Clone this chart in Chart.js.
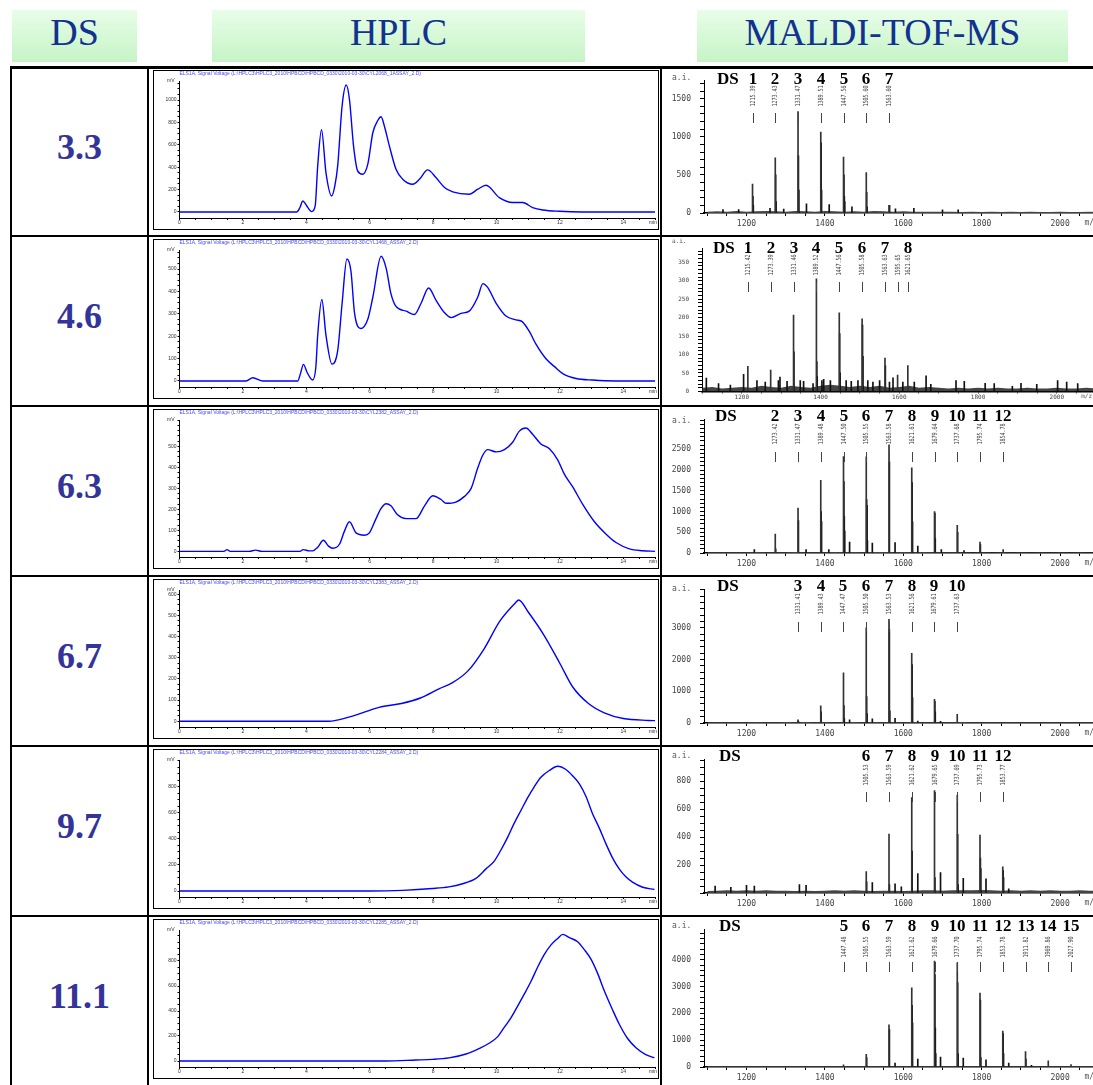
<!DOCTYPE html>
<html>
<head>
<meta charset="utf-8">
<script src="https://cdn.jsdelivr.net/npm/chart.js@4.4.1/dist/chart.umd.min.js"></script>
<style>
html, body { margin: 0; padding: 0; background: #fff; }
body { position: relative; width: 1093px; height: 1085px; overflow: hidden; }
.head { position: absolute; top: 10px; height: 52px; line-height: 54px; text-align: center;
  background: linear-gradient(#e8fde8, #c6f4c6); color: #12328f; font: 38px "Liberation Serif", serif; }
.rule { position: absolute; background: #000; z-index: 5; }
.ds { position: absolute; left: 12px; width: 135px; display: flex; align-items: center; justify-content: center;
  box-sizing: border-box; padding-bottom: 10px; font: bold 36px "Liberation Serif", serif; color: #333399; }
.hplc { position: absolute; left: 153px; width: 504px; height: 158px; border: 1px solid #000; }
.ms { position: absolute; left: 663px; width: 430px; height: 169px; overflow: hidden; }
canvas { display: block; }
</style>
</head>
<body>
<div class="head" style="left:12px;width:125px">DS</div>
<div class="head" style="left:212px;width:373px">HPLC</div>
<div class="head" style="left:697px;width:371px">MALDI-TOF-MS</div>
<script>
// degré de substitution de chaque ligne
const dsValues = ['3.3', '4.6', '6.3', '6.7', '9.7', '11.1'];

// HPLC : fichiers
const hplcPath = 'ELS1A, Signal Voltage (L:\\HPLC3\\HPLC3_2010\\HPBCD\\HPBCD_0330\\2010-03-30\\';
const hplcFiles = ['CYL2068_1ASSAY_2.D', 'CYL1468_ASSAY_2.D', 'CYL2382_ASSAY_2.D', 'CYL2383_ASSAY_2.D', 'CYL2284_ASSAY_2.D', 'CYL2285_ASSAY_2.D'];
const hplcXTicks = [0, 2, 4, 6, 8, 10, 12, 14];

// HPLC : [temps (min), signal (mV)]
const hplc1 = [[0,0],[3.7,0],[3.8,40],[3.89,98],[4.0,60],[4.17,3],[4.28,54],[4.36,412],[4.48,734],[4.62,352],[4.8,143],[4.9,233],[4.99,412],[5.13,949],[5.26,1134],[5.36,1009],[5.49,591],[5.62,367],[5.78,337],[5.94,427],[6.1,710],[6.25,815],[6.36,851],[6.46,770],[6.62,591],[6.83,382],[7.04,293],[7.36,248],[7.57,293],[7.83,376],[8.09,307],[8.36,218],[8.62,179],[9.14,158],[9.41,203],[9.67,239],[10.09,128],[10.51,84],[10.83,84],[11.14,39],[11.46,18],[11.98,6],[12.7,0],[15,0]];
const hplc2 = [[0,0],[2.1,0],[2.31,14],[2.63,0],[3.73,0],[3.82,35],[3.91,74],[4.02,40],[4.2,4],[4.3,60],[4.36,205],[4.49,364],[4.62,205],[4.81,75],[4.99,135],[5.13,347],[5.28,545],[5.41,489],[5.52,305],[5.71,234],[5.94,276],[6.1,375],[6.36,557],[6.52,503],[6.67,390],[6.83,333],[7.15,312],[7.41,297],[7.62,347],[7.86,415],[8.09,361],[8.36,305],[8.57,283],[8.88,302],[9.14,312],[9.41,375],[9.57,435],[9.72,418],[9.99,347],[10.3,290],[10.62,273],[10.81,265],[11.04,220],[11.25,163],[11.56,99],[11.83,64],[12.09,33],[12.51,11],[13.03,4],[13.77,0],[15,0]];
const hplc3 = [[0,0],[1.4,0],[1.5,8],[1.6,0],[2.2,0],[2.4,6],[2.6,0],[3.8,0],[3.9,8],[4.1,2],[4.2,2],[4.36,20],[4.54,53],[4.7,25],[4.84,15],[5.05,35],[5.2,95],[5.36,141],[5.57,88],[5.83,77],[5.99,88],[6.2,156],[6.36,205],[6.52,227],[6.67,217],[6.88,174],[7.15,156],[7.46,156],[7.73,217],[7.99,265],[8.25,247],[8.41,229],[8.72,235],[8.99,262],[9.2,300],[9.41,398],[9.57,459],[9.72,485],[9.99,474],[10.25,485],[10.51,520],[10.72,573],[10.93,588],[11.14,558],[11.4,512],[11.67,489],[11.93,436],[12.14,368],[12.4,308],[12.72,224],[13.09,141],[13.45,83],[13.77,42],[14.19,12],[14.61,3],[15,0]];
const hplc4 = [[0,0],[4.7,0],[5.4,22],[6.3,66],[7.0,84],[7.6,110],[8.2,154],[8.6,181],[9.1,238],[9.6,340],[10.1,472],[10.6,560],[10.7,573],[11.0,516],[11.5,406],[12.0,273],[12.4,163],[12.9,84],[13.4,40],[14,13],[14.8,4],[15,3]];
const hplc5 = [[0,0],[6,0],[7.04,5],[7.98,19],[8.5,32],[8.93,56],[9.35,97],[9.67,170],[9.93,230],[10.14,315],[10.35,412],[10.56,521],[10.77,618],[10.98,715],[11.19,800],[11.4,873],[11.67,926],[11.93,958],[12.19,933],[12.4,885],[12.61,824],[12.82,727],[13.03,594],[13.24,485],[13.45,364],[13.66,255],[13.87,170],[14.08,109],[14.29,68],[14.61,29],[14.98,12]];
const hplc6 = [[0,0],[6.5,0],[7.46,8],[7.98,13],[8.5,25],[9.04,56],[9.46,101],[9.78,144],[10.04,195],[10.25,271],[10.46,347],[10.67,441],[10.88,537],[11.09,638],[11.3,752],[11.51,853],[11.72,929],[11.93,980],[12.09,1013],[12.3,987],[12.56,954],[12.77,891],[12.98,815],[13.19,701],[13.4,562],[13.66,410],[13.87,296],[14.13,182],[14.4,106],[14.71,51],[14.98,25]];

// HPLC : graduations y
const hplc1YTicks = [0, 200, 400, 600, 800, 1000];
const hplc2YTicks = [0, 100, 200, 300, 400, 500];
const hplc3YTicks = [0, 100, 200, 300, 400, 500];
const hplc4YTicks = [0, 100, 200, 300, 400, 500, 600];
const hplc5YTicks = [0, 200, 400, 600, 800];
const hplc6YTicks = [0, 200, 400, 600, 800];

// MALDI : graduations
const msXTicks = [1200, 1400, 1600, 1800, 2000];
const ms1YTicks = [0, 500, 1000, 1500];
const ms2YTicks = [0, 50, 100, 150, 200, 250, 300, 350];
const ms3YTicks = [0, 500, 1000, 1500, 2000, 2500];
const ms4YTicks = [0, 1000, 2000, 3000];
const ms5YTicks = [200, 400, 600, 800];
const ms6YTicks = [0, 1000, 2000, 3000, 4000];

// MALDI : pics annotés [m/z, intensité] et DS
const ms1Peaks = [[1215.39,380],[1273.43,723],[1331.47,1330],[1389.51,1062],[1447.56,735],[1505.60,529],[1563.60,100]];
const ms1Ds = ['1','2','3','4','5','6','7'];
const ms2Peaks = [[1215.42,68],[1273.39,58],[1331.46,207],[1389.52,305],[1447.56,213],[1505.58,197],[1563.63,90],[1595.65,44],[1621.65,70]];
const ms2Ds = ['1','2','3','4','5','6','7','','8'];
const ms3Peaks = [[1273.42,453],[1331.47,1080],[1389.48,1752],[1447.50,2326],[1505.55,2319],[1563.58,2606],[1621.61,2054],[1679.64,997],[1737.68,665],[1795.74,264],[1854.78,80]];
const ms3Ds = ['2','3','4','5','6','7','8','9','10','11','12'];
const ms4Peaks = [[1331.41,100],[1389.43,545],[1447.47,1584],[1505.50,3000],[1563.53,3267],[1621.56,2198],[1679.61,743],[1737.63,270]];
const ms4Ds = ['3','4','5','6','7','8','9','10'];
const ms5Peaks = [[1505.53,153],[1563.59,422],[1621.62,685],[1679.65,735],[1737.69,701],[1795.73,416],[1853.77,187]];
const ms5Ds = ['6','7','8','9','10','11','12'];
const ms6Peaks = [[1447.48,80],[1505.55,469],[1563.59,1571],[1621.62,2954],[1679.66,3951],[1737.70,3892],[1795.74,2755],[1853.78,1336],[1911.82,574],[1969.86,234],[2027.90,90]];
const ms6Ds = ['5','6','7','8','9','10','11','12','13','14','15'];

// MALDI : isotopes, adduits et pics secondaires [m/z, intensité]
const ms1Minor = [[1216.4,220],[1217.4,100],[1274.4,500],[1275.4,150],[1332.5,750],[1333.5,300],[1390.5,920],[1391.5,300],[1448.6,500],[1449.6,220],[1450.6,150],[1506.6,270],[1507.6,80],[1353,120],[1411,110],[1469,80],[1565,100],[1627,60],[1260,60],[1295,50],[1180,45],[1140,45],[1580,55],[1700,40],[1740,40]];
const ms2Minor = [[1110,36],[1141,21],[1171,17],[1204.6,46],[1238.5,29],[1259.6,25],[1293,29],[1297,39],[1315,27],[1332.5,107],[1348.5,29],[1357,27],[1381,21],[1390.5,81],[1391.5,40],[1403.5,29],[1408,33],[1425,29],[1448.6,157],[1449.6,50],[1465,29],[1478,27],[1495,29],[1506.6,180],[1507.6,95],[1520,29],[1533,25],[1550,29],[1564.6,70],[1575,25],[1584,37],[1609,25],[1638,25],[1668,42],[1680,19],[1744,29],[1765,27],[1818,22],[1841,21],[1887,14],[1909,22],[1949,19],[2002,29],[2025,25],[2053,21]];
const ms3Minor = [[1332.5,780],[1390.5,1000],[1391.5,760],[1448.5,1720],[1449.5,880],[1450.5,530],[1506.5,1290],[1507.5,1150],[1508.5,300],[1564.6,2200],[1622.6,1700],[1623.6,750],[1680.6,960],[1681.6,350],[1738.7,500],[1796.7,200],[1463,265],[1521,242],[1579,250],[1637,166],[1697,80],[1352,80],[1410,80],[1274.4,100],[1220,80],[1755,60]];
const ms4Minor = [[1390.4,350],[1448.5,550],[1449.5,150],[1506.5,830],[1507.5,300],[1564.5,2950],[1565.5,380],[1622.6,1840],[1623.6,800],[1680.6,680],[1681.6,350],[1463,100],[1521,130],[1579,150],[1637,60],[1695,50],[1332.4,60]];
const ms5Minor = [[1506.5,80],[1564.6,60],[1622.6,300],[1680.7,110],[1738.7,420],[1739.7,60],[1796.7,250],[1797.7,175],[1854.8,160],[1855.8,110],[1637,139],[1695,146],[1753,105],[1811,101],[1579,65],[1521,75],[1869,30],[1120,49],[1200,55],[1220,50],[1335,60],[1352,55],[1160,40],[1595,45]];
const ms6Minor = [[1506.6,350],[1564.6,1400],[1622.6,2300],[1623.6,1650],[1680.7,3450],[1681.7,1460],[1682.7,500],[1738.7,3150],[1739.7,500],[1796.7,2500],[1797.7,350],[1854.8,1250],[1855.8,500],[1912.8,300],[1579,150],[1637,300],[1695,370],[1753,330],[1811,270],[1869,150],[1927,60]];

// MALDI : bruit de fond
const noiseMz = [1100,1125,1150,1175,1200,1225,1250,1275,1300,1325,1350,1375,1400,1425,1450,1475,1500,1525,1550,1575,1600,1625,1650,1675,1700,1725,1750,1775,1800,1825,1850,1875,1900,1925,1950,1975,2000,2025,2050,2075,2100,2125,2150];
const ms1Noise = [18,22,18,25,18,22,25,22,18,25,22,18,25,22,18,22,18,25,22,18,22,18,15,18,15,15,12,15,12,15,12,15,12,15,12,12,15,12,12,15,12,10,12];
const ms2Noise = [10,12,8,10,12,10,15,12,10,15,12,10,15,18,15,12,15,12,15,10,12,15,10,12,10,8,10,8,10,8,10,8,8,10,8,8,10,8,8,10,8,8,8];
const ms3Noise = [18,18,21,18,21,24,21,18,21,24,21,18,21,24,21,24,21,24,24,21,24,21,24,21,18,21,18,15,18,15,18,15,18,15,18,15,18,15,18,15,15,12,15];
const ms4Noise = [24,24,27,24,27,30,27,24,30,27,30,27,30,24,27,30,27,30,27,30,27,30,27,24,27,24,30,24,27,24,21,24,21,24,21,24,21,24,21,21,24,21,21];
const ms5Noise = [14,17,19,17,19,17,19,17,17,14,17,14,17,19,17,19,17,14,17,17,14,17,19,19,17,19,19,19,22,19,17,19,17,19,17,19,17,17,19,17,17,14,17];
const ms6Noise = [24,27,24,27,24,27,24,27,24,27,24,24,27,24,27,24,27,24,27,30,27,30,27,30,27,30,27,30,27,30,27,30,27,24,27,24,27,24,27,24,24,21,24];

// ---------- mise en page ----------
const rowTops = [67, 236, 406, 576, 746, 916, 1085];

const hplcRows = [
    { data: hplc1, yTicks: hplc1YTicks, minor: 50, yMin: -54, yMax: 1170 },
    { data: hplc2, yTicks: hplc2YTicks, minor: 25, yMin: -27, yMax: 585 },
    { data: hplc3, yTicks: hplc3YTicks, minor: 25, yMin: -27, yMax: 626 },
    { data: hplc4, yTicks: hplc4YTicks, minor: 25, yMin: -27, yMax: 620 },
    { data: hplc5, yTicks: hplc5YTicks, minor: 50, yMin: -46, yMax: 1006 },
    { data: hplc6, yTicks: hplc6YTicks, minor: 50, yMin: -48, yMax: 1048 }
];

const msRows = [
    { peaks: ms1Peaks, ds: ms1Ds, minor: ms1Minor, noise: ms1Noise, yTicks: ms1YTicks, yMinor: 100, yMax: 1735,
      xMin: 1091.6, xMax: 2160.5, axisW: 41, top: 6, axisH: 22, aiY: 11, numY: 17, labY: 29, dsX: 54, font: 8 },
    { peaks: ms2Peaks, ds: ms2Ds, minor: ms2Minor, noise: ms2Noise, yTicks: ms2YTicks, yMinor: 10, yMax: 387,
      xMin: 1099, xMax: 2168, axisW: 39, top: 3, axisH: 10, aiY: 5, numY: 17, labY: 29, dsX: 50, font: 6 },
    { peaks: ms3Peaks, ds: ms3Ds, minor: ms3Minor, noise: ms3Noise, yTicks: ms3YTicks, yMinor: 100, yMax: 3210,
      xMin: 1091.6, xMax: 2160.5, axisW: 41, top: 5, axisH: 21, aiY: 15, numY: 15, labY: 28, dsX: 52, font: 8 },
    { peaks: ms4Peaks, ds: ms4Ds, minor: ms4Minor, noise: ms4Noise, yTicks: ms4YTicks, yMinor: 200, yMax: 4200,
      xMin: 1091.6, xMax: 2160.5, axisW: 41, top: 5, axisH: 21, aiY: 13, numY: 15, labY: 28, dsX: 54, font: 8 },
    { peaks: ms5Peaks, ds: ms5Ds, minor: ms5Minor, noise: ms5Noise, yTicks: ms5YTicks, yMinor: 50, yMax: 955,
      xMin: 1091.6, xMax: 2160.5, axisW: 41, top: 5, axisH: 21, aiY: 10, numY: 15, labY: 29, dsX: 56, font: 8 },
    { peaks: ms6Peaks, ds: ms6Ds, minor: ms6Minor, noise: ms6Noise, yTicks: ms6YTicks, yMinor: 200, yMax: 5120,
      xMin: 1091.6, xMax: 2160.5, axisW: 41, top: 5, axisH: 17, aiY: 10, numY: 15, labY: 31, dsX: 56, font: 8 }
];

function steps(from, to, step) {
    const out = [];
    for (let v = from; v <= to + 1e-9; v += step) out.push(Math.round(v * 100) / 100);
    return out;
}

function addDiv(cls, css, text) {
    const d = document.createElement('div');
    d.className = cls;
    d.style.cssText = css;
    if (text) d.textContent = text;
    document.body.appendChild(d);
    return d;
}

function addCanvas(parent, w, h) {
    const c = document.createElement('canvas');
    c.width = w;
    c.height = h;
    c.style.width = w + 'px';
    c.style.height = h + 'px';
    parent.appendChild(c);
    return c;
}

// textes du chromatogramme : titre, mV, min
const hplcText = {
    id: 'hplcText',
    afterDraw(chart, args, o) {
        const ctx = chart.ctx, a = chart.chartArea;
        ctx.save();
        ctx.font = '5px "Liberation Sans"';
        ctx.textBaseline = 'middle';
        ctx.fillStyle = '#4b4bff';
        ctx.fillText(o.title, a.left, 3);
        ctx.fillStyle = '#333';
        ctx.textAlign = 'right';
        ctx.fillText('mV', a.left - 5, a.top);
        ctx.fillText('min', chart.width - 1, a.bottom + 5);
        ctx.restore();
    }
};

// textes du spectre : a.i., m/z, DS, masses
const msText = {
    id: 'msText',
    afterDraw(chart, args, o) {
        const ctx = chart.ctx, x = chart.scales.x, a = chart.chartArea;
        ctx.save();
        ctx.fillStyle = '#555';
        ctx.font = o.font + 'px "DejaVu Sans Mono"';
        ctx.textBaseline = 'middle';
        ctx.fillText('a.i.', 9, o.aiY);
        ctx.fillText('m/z', x.getPixelForValue(2062), a.bottom + o.labOff);

        ctx.fillStyle = '#000';
        ctx.font = 'bold 17px "Liberation Serif"';
        ctx.textBaseline = 'alphabetic';
        ctx.textAlign = 'left';
        ctx.fillText('DS', o.dsX, o.numY);
        ctx.textAlign = 'center';
        o.peaks.forEach((p, i) => {
            const px = Math.round(x.getPixelForValue(p[0]));
            if (o.ds[i]) {
                ctx.fillStyle = '#000';
                ctx.font = 'bold 17px "Liberation Serif"';
                ctx.textBaseline = 'alphabetic';
                ctx.fillText(o.ds[i], px, o.numY);
            }
            ctx.save();
            ctx.translate(px, o.labY);
            ctx.rotate(-Math.PI / 2);
            ctx.scale(0.72, 1);
            ctx.font = '7px "DejaVu Sans Mono"';
            ctx.fillStyle = '#444';
            ctx.textBaseline = 'middle';
            ctx.fillText(p[0].toFixed(2), 0, 0);
            ctx.restore();
            ctx.strokeStyle = '#444';
            ctx.lineWidth = 1;
            ctx.beginPath();
            ctx.moveTo(px + 0.5, 46);
            ctx.lineTo(px + 0.5, 56);
            ctx.stroke();
        });
        ctx.restore();
    }
};

function makeHplc(canvas, row, title) {
    return new Chart(canvas, {
        type: 'line',
        data: {
            datasets: [{
                data: row.data.map(p => ({ x: p[0], y: p[1] })),
                borderColor: '#0000ff',
                borderWidth: 1.4,
                pointRadius: 0,
                fill: false,
                cubicInterpolationMode: 'monotone'
            }]
        },
        options: {
            responsive: false,
            animation: false,
            events: [],
            layout: { padding: { top: 10, right: 3, left: 0, bottom: 0 } },
            plugins: { legend: { display: false }, tooltip: { enabled: false }, hplcText: { title } },
            scales: {
                x: {
                    type: 'linear', min: 0, max: 15,
                    afterBuildTicks: s => { s.ticks = steps(0, 15, 0.5).map(v => ({ value: v })); },
                    afterFit: s => { s.height = 11; },
                    ticks: {
                        autoSkip: false, maxRotation: 0, padding: 0, color: '#333',
                        font: { size: 5, family: 'Liberation Sans' },
                        callback: v => hplcXTicks.includes(v) ? String(v) : ''
                    },
                    grid: { drawOnChartArea: false, tickLength: 2, color: '#000' },
                    border: { color: '#000' }
                },
                y: {
                    min: row.yMin, max: row.yMax,
                    afterBuildTicks: s => { s.ticks = steps(0, row.yMax, row.minor).map(v => ({ value: v })); },
                    afterFit: s => { s.width = 25.5; },
                    ticks: {
                        autoSkip: false, padding: 1, color: '#333',
                        font: { size: 5, family: 'Liberation Sans' },
                        callback: v => row.yTicks.includes(v) ? String(v) : ''
                    },
                    grid: { drawOnChartArea: false, tickLength: 2, color: '#000' },
                    border: { color: '#000' }
                }
            }
        },
        plugins: [hplcText]
    });
}

function makeMs(canvas, row) {
    const tickFont = { size: row.font, family: 'DejaVu Sans Mono' };
    return new Chart(canvas, {
        type: 'bar',
        data: {
            datasets: [
                {
                    type: 'line',
                    data: noiseMz.map((m, k) => ({ x: m, y: row.noise[k] })),
                    borderColor: '#444', backgroundColor: '#444', borderWidth: 0,
                    pointRadius: 0, fill: 'origin', order: 3
                },
                {
                    data: row.minor.map(p => ({ x: p[0], y: p[1] })),
                    backgroundColor: '#111', barThickness: 1, grouped: false, order: 2
                },
                {
                    data: row.peaks.map(p => ({ x: p[0], y: p[1] })),
                    backgroundColor: '#333', barThickness: 1, grouped: false, order: 1
                }
            ]
        },
        options: {
            responsive: false,
            animation: false,
            events: [],
            layout: { padding: { top: row.top, right: 0, left: 0, bottom: 0 } },
            plugins: {
                legend: { display: false }, tooltip: { enabled: false },
                msText: {
                    peaks: row.peaks, ds: row.ds, font: row.font, aiY: row.aiY, numY: row.numY,
                    labY: row.labY, dsX: row.dsX, labOff: row.axisH > 15 ? 10 : 5
                }
            },
            scales: {
                x: {
                    type: 'linear', min: row.xMin, max: row.xMax, offset: false,
                    afterBuildTicks: s => { s.ticks = steps(1100, 2150, 50).map(v => ({ value: v })); },
                    afterFit: s => { s.height = row.axisH; },
                    ticks: {
                        autoSkip: false, maxRotation: 0, padding: row.axisH > 15 ? 3 : 0, color: '#444', font: tickFont,
                        callback: v => msXTicks.includes(v) ? String(v) : ''
                    },
                    grid: { drawOnChartArea: false, offset: false, tickLength: row.axisH > 15 ? 3 : 2, color: '#000' },
                    border: { color: '#000', width: 1.5 }
                },
                y: {
                    min: 0, max: row.yMax,
                    afterBuildTicks: s => { s.ticks = steps(0, row.yMax, row.yMinor).map(v => ({ value: v })); },
                    afterFit: s => { s.width = row.axisW; },
                    ticks: {
                        autoSkip: false, padding: 9, color: '#444', font: tickFont,
                        callback: v => row.yTicks.includes(v) ? String(v) : ''
                    },
                    grid: { drawOnChartArea: false, tickLength: 4, color: '#000' },
                    border: { color: '#000' }
                }
            }
        },
        plugins: [msText]
    });
}

// lignes du tableau
addDiv('rule', 'left:10px;top:66px;width:1083px;height:3px');
addDiv('rule', 'left:10px;top:66px;width:2px;height:1019px');
addDiv('rule', 'left:147px;top:66px;width:2px;height:1019px');
addDiv('rule', 'left:660px;top:66px;width:2px;height:1019px');

for (let i = 0; i < 6; i++) {
    const top = rowTops[i];
    const h = rowTops[i + 1] - top;
    if (i > 0) addDiv('rule', 'left:10px;top:' + (top - 1) + 'px;width:1083px;height:2px');

    addDiv('ds', 'top:' + top + 'px;height:' + h + 'px', dsValues[i]);

    const hp = addDiv('hplc', 'top:' + (top + 3) + 'px');
    makeHplc(addCanvas(hp, 504, 158), hplcRows[i], hplcPath + hplcFiles[i] + ')');

    const ms = addDiv('ms', 'top:' + top + 'px');
    makeMs(addCanvas(ms, 460, 168), msRows[i]);
}
</script>
</body>
</html>
